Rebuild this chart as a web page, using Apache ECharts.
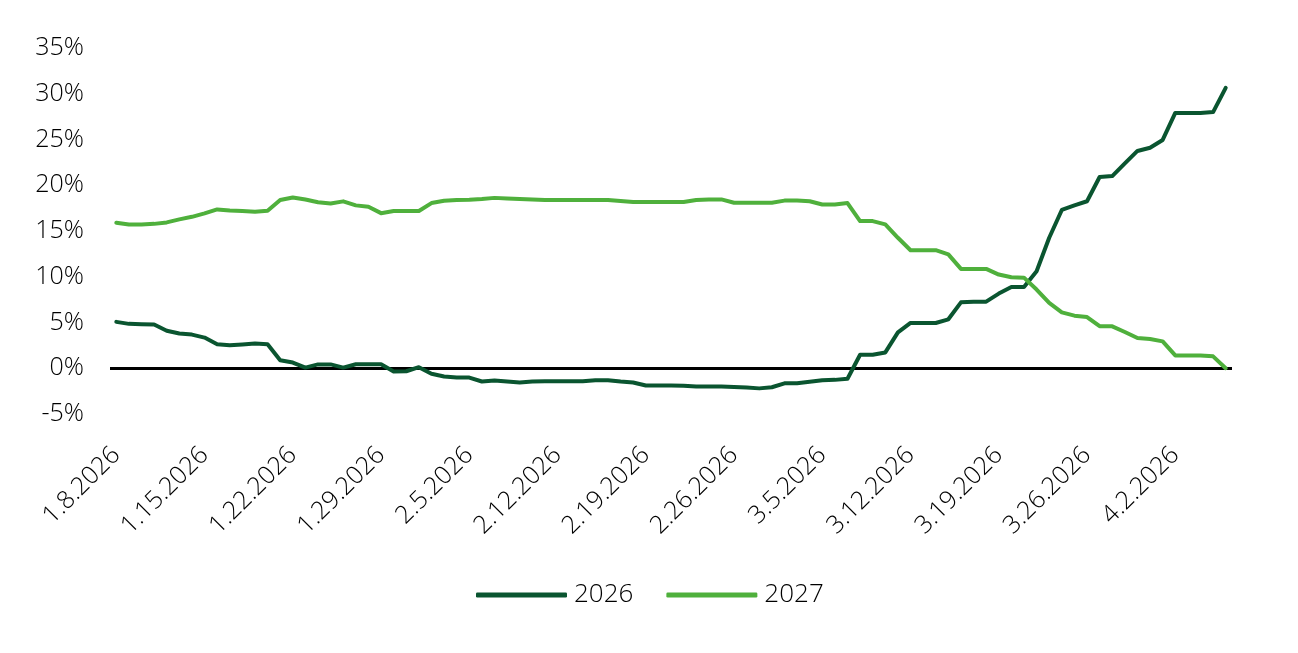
<!DOCTYPE html>
<html>
<head>
<meta charset="utf-8">
<script src="https://cdn.jsdelivr.net/npm/echarts@6/dist/echarts.min.js"></script>
<style>
html,body{margin:0;padding:0;background:#fff;}
#chart{width:1298px;height:653px;}
</style>
</head>
<body>
<div id="chart"></div>
<script>
const dates = [
 "1.8.2026","1.9.2026","1.10.2026","1.11.2026","1.12.2026","1.13.2026","1.14.2026","1.15.2026","1.16.2026","1.17.2026",
 "1.18.2026","1.19.2026","1.20.2026","1.21.2026","1.22.2026","1.23.2026","1.24.2026","1.25.2026","1.26.2026","1.27.2026",
 "1.28.2026","1.29.2026","1.30.2026","1.31.2026","2.1.2026","2.2.2026","2.3.2026","2.4.2026","2.5.2026","2.6.2026",
 "2.7.2026","2.8.2026","2.9.2026","2.10.2026","2.11.2026","2.12.2026","2.13.2026","2.14.2026","2.15.2026","2.16.2026",
 "2.17.2026","2.18.2026","2.19.2026","2.20.2026","2.21.2026","2.22.2026","2.23.2026","2.24.2026","2.25.2026","2.26.2026",
 "2.27.2026","2.28.2026","3.1.2026","3.2.2026","3.3.2026","3.4.2026","3.5.2026","3.6.2026","3.7.2026","3.8.2026",
 "3.9.2026","3.10.2026","3.11.2026","3.12.2026","3.13.2026","3.14.2026","3.15.2026","3.16.2026","3.17.2026","3.18.2026",
 "3.19.2026","3.20.2026","3.21.2026","3.22.2026","3.23.2026","3.24.2026","3.25.2026","3.26.2026","3.27.2026","3.28.2026",
 "3.29.2026","3.30.2026","3.31.2026","4.1.2026","4.2.2026","4.3.2026","4.4.2026","4.5.2026","4.6.2026"
];

const series2026 = [
 5.07,4.85,4.80,4.78,4.10,3.80,3.68,3.35,2.63,2.52,
 2.60,2.70,2.63,0.88,0.62,0.07,0.42,0.42,0.07,0.44,
 0.44,0.44,-0.36,-0.33,0.12,-0.60,-0.90,-1.00,-1.02,-1.45,
 -1.33,-1.45,-1.55,-1.45,-1.42,-1.42,-1.42,-1.42,-1.30,-1.30,
 -1.45,-1.55,-1.88,-1.88,-1.88,-1.90,-2.00,-2.00,-2.00,-2.06,
 -2.10,-2.20,-2.08,-1.65,-1.63,-1.48,-1.30,-1.27,-1.15,1.48,
 1.48,1.73,3.92,4.95,4.95,4.95,5.35,7.20,7.28,7.28,
 8.16,8.89,8.89,10.60,14.26,17.30,17.80,18.25,20.90,21.00,
 22.40,23.75,24.10,24.95,27.90,27.90,27.90,28.00,30.65
];

const series2027 = [
 15.90,15.70,15.72,15.78,15.94,16.27,16.55,16.92,17.36,17.25,
 17.18,17.10,17.21,18.38,18.67,18.45,18.15,18.00,18.24,17.80,
 17.65,16.95,17.18,17.18,17.18,18.05,18.30,18.40,18.42,18.50,
 18.62,18.55,18.50,18.45,18.38,18.38,18.38,18.38,18.38,18.38,
 18.27,18.16,18.16,18.16,18.16,18.16,18.38,18.45,18.45,18.09,
 18.09,18.09,18.09,18.32,18.32,18.25,17.90,17.90,18.05,16.08,
 16.08,15.72,14.26,12.90,12.90,12.90,12.45,10.86,10.86,10.86,
 10.24,9.95,9.90,8.60,7.14,6.11,5.75,5.60,4.60,4.58,
 3.96,3.30,3.20,2.94,1.40,1.40,1.40,1.30,0.00
];

const yTicks = { min: -5, max: 35, step: 5 };
const seriesNames = ["2026", "2027"];

const FONT = "'Open Sans', 'DejaVu Sans', sans-serif";
const chart = echarts.init(document.getElementById('chart'), null, {renderer: 'canvas'});
chart.setOption({
  animation: false,
  backgroundColor: '#ffffff',
  grid: { left: 110, right: 66, top: 48, bottom: 239, containLabel: false },
  legend: {
    data: seriesNames,
    top: 577,
    left: 471,
    icon: 'roundRect',
    itemWidth: 91,
    itemHeight: 5,
    itemGap: 33,
    textStyle: { fontFamily: FONT, fontWeight: 300, fontSize: 26, color: '#000', padding: [0,0,0,2] }
  },
  xAxis: {
    type: 'category',
    data: dates,
    boundaryGap: true,
    axisLine: { show: false, onZero: false },
    axisTick: { show: false },
    splitLine: { show: false },
    axisLabel: {
      interval: 6,
      rotate: 45,
      margin: 37,
      fontFamily: FONT,
      fontWeight: 300,
      fontSize: 25,
      color: '#000'
    }
  },
  yAxis: {
    type: 'value',
    min: yTicks.min,
    max: yTicks.max,
    interval: yTicks.step,
    axisLine: { show: false },
    axisTick: { show: false },
    splitLine: { show: false },
    axisLabel: {
      formatter: '{value}%',
      margin: 26,
      fontFamily: FONT,
      fontWeight: 300,
      fontSize: 25,
      color: '#000'
    }
  },
  series: [
    {
      name: seriesNames[0],
      type: 'line',
      data: series2026,
      showSymbol: false,
      symbol: 'none',
      lineStyle: { color: '#0a5530', width: 4, join: 'round', cap: 'round' },
      itemStyle: { color: '#0a5530' },
      z: 3,
      markLine: {
        silent: true,
        symbol: 'none',
        label: { show: false },
        lineStyle: { color: '#000', width: 3, type: 'solid' },
        data: [{ yAxis: 0 }],
        z: 1
      }
    },
    {
      name: seriesNames[1],
      type: 'line',
      data: series2027,
      showSymbol: false,
      symbol: 'none',
      lineStyle: { color: '#4fb03c', width: 4, join: 'round', cap: 'round' },
      itemStyle: { color: '#4fb03c' },
      z: 4
    }
  ]
});
</script>
</body>
</html>
